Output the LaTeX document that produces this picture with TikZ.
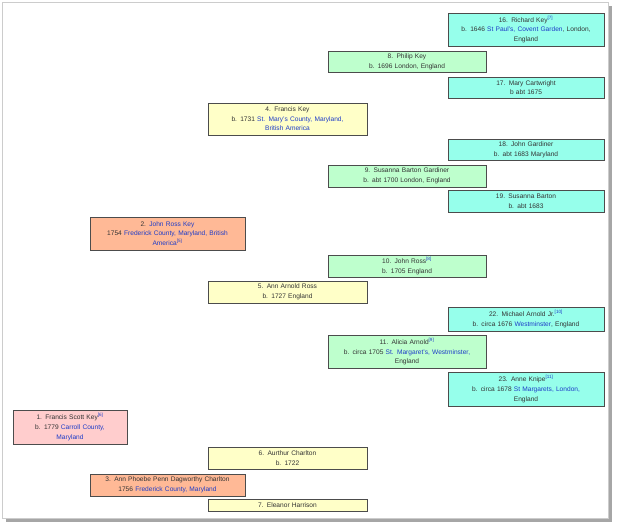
\documentclass[tikz,border=0pt]{standalone}
\usepackage{fontspec}
\setmainfont{Liberation Sans}
\usetikzlibrary{backgrounds}
\definecolor{lnk}{RGB}{30,60,200}
\definecolor{cyanb}{RGB}{150,255,235}
\definecolor{greenb}{RGB}{190,255,205}
\definecolor{yelb}{RGB}{255,255,200}
\definecolor{orab}{RGB}{255,185,150}
\definecolor{pinkb}{RGB}{255,205,205}
\newcommand{\lk}[1]{\textcolor{lnk}{#1}}
\newcommand{\rf}[1]{\textsuperscript{\lk{[#1]}}}
\begin{document}
\begin{tikzpicture}[x=1pt,y=-1pt,
  box/.style={draw=black!70,line width=0.8pt,align=center,inner sep=0pt,
    font=\fontsize{6.6}{9.6}\selectfont,text=black!80},
  conn/.style={draw=black!65,line width=0.7pt}]
\useasboundingbox (0,0) rectangle (620,529);
\fill[black!35] (6,6) rectangle (612,522);
\draw[black!20,fill=white] (2,2) rectangle (608,518);
\def\bx#1#2#3#4#5#6#7{\node[box,fill=#6,minimum width=#4-#2,minimum height=#5-#3,text width=#4-#2-4] (#1) at ({(#2+#4)/2},{(#3+#5)/2}) {#7};}
\bx{n16}{448}{13}{604}{46}{cyanb}{16. Richard Key\rf{7}\\b. 1646 \lk{St Paul's, Covent Garden}, London,\\England}
\bx{n8}{328}{51}{486}{72}{greenb}{8. Philip Key\\b. 1696 London, England}
\bx{n17}{448}{77}{604}{98}{cyanb}{17. Mary Cartwright\\b abt 1675}
\bx{n4}{208}{103}{367}{135}{yelb}{4. Francis Key\\b. 1731 \lk{St. Mary's County, Maryland,}\\\lk{British America}}
\bx{n18}{448}{139}{604}{160}{cyanb}{18. John Gardiner\\b. abt 1683 Maryland}
\bx{n9}{328}{165}{486}{187}{greenb}{9. Susanna Barton Gardiner\\b. abt 1700 London, England}
\bx{n19}{448}{190}{604}{212}{cyanb}{19. Susanna Barton\\b. abt 1683}
\bx{n2}{90}{217}{245}{250}{orab}{2. \lk{John Ross Key}\\1754 \lk{Frederick County, Maryland, British}\\\lk{America}\rf{5}}
\bx{n10}{328}{255}{486}{277}{greenb}{10. John Ross\rf{8}\\b. 1705 England}
\bx{n5}{208}{281}{367}{303}{yelb}{5. Ann Arnold Ross\\b. 1727 England}
\bx{n22}{448}{307}{604}{331}{cyanb}{22. Michael Arnold Jr.\rf{10}\\b. circa 1676 \lk{Westminster}, England}
\bx{n11}{328}{335}{486}{368}{greenb}{11. Alicia Arnold\rf{9}\\b. circa 1705 \lk{St. Margaret's, Westminster,}\\England}
\bx{n23}{448}{372}{604}{406}{cyanb}{23. Anne Knipe\rf{11}\\b. circa 1678 \lk{St Margarets, London,}\\England}
\bx{n1}{13}{410}{127}{444}{pinkb}{1. Francis Scott Key\rf{6}\\b. 1779 \lk{Carroll County,}\\\lk{Maryland}}
\bx{n6}{208}{447}{367}{469}{yelb}{6. Aurthur Charlton\\b. 1722}
\bx{n3}{90}{474}{245}{496}{orab}{3. Ann Phoebe Penn Dagworthy Charlton\\1756 \lk{Frederick County, Maryland}}
\bx{n7}{208}{499}{367}{511}{yelb}{7. Eleanor Harrison}
\begin{scope}[on background layer]
\draw[conn] (n16.west) -- ++(-44,0) |- (n17.west);
\draw[conn] (n18.west) -- ++(-44,0) |- (n19.west);
\draw[conn] (n22.west) -- ++(-44,0) |- (n23.west);
\draw[conn] (n8.west) -- ++(-43,0) coordinate (a4) -- (a4 |- 0,176);
\draw[conn] (n4.west) -- ++(-44,0) |- (n5.west);
\draw[conn] (n10.west) -- ++(-43,0) |- (n11.west);
\draw[conn] (n2.west) -- ++(-29,0) |- (n3.west);
\draw[conn] (n7.west) -- ++(-44,0) coordinate (a7) -- (a7 |- 0,459);
\end{scope}
\end{tikzpicture}
\end{document}
